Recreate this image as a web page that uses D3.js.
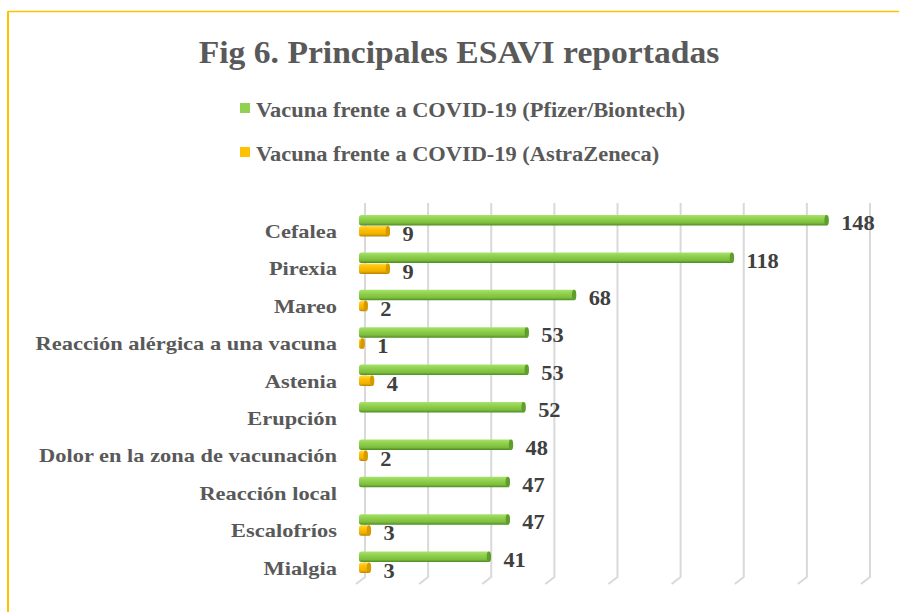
<!DOCTYPE html>
<html>
<head>
<meta charset="utf-8">
<script src="https://cdn.jsdelivr.net/npm/d3@7"></script>
<style>
  body { margin: 0; background: #fff; }
  svg { display: block; }
</style>
</head>
<body>
<script>
  // data
  var categories = ["Cefalea", "Pirexia", "Mareo", "Reacción alérgica a una vacuna", "Astenia",
                    "Erupción", "Dolor en la zona de vacunación", "Reacción local", "Escalofríos", "Mialgia"];
  var pfizer = [148, 118, 68, 53, 53, 52, 48, 47, 47, 41];
  var astra = [9, 9, 2, 1, 4, null, 2, null, 3, 3];
  var seriesNames = ["Vacuna frente a COVID-19 (Pfizer/Biontech)", "Vacuna frente a COVID-19 (AstraZeneca)"];
  var ticks = [0, 20, 40, 60, 80, 100, 120, 140, 160];

  var width = 899;
  var height = 612;
  var font = "'Liberation Serif', 'DejaVu Serif', serif";

  var svg = d3.select("body").append("svg")
              .attr("width", width)
              .attr("height", height)
              .style("font-family", font);

  // widen the narrow serif so it takes the room of the original book face
  function stretch(sel, k) {
    sel.each(function() {
      var w = this.getComputedTextLength();
      d3.select(this).attr("textLength", w * k).attr("lengthAdjust", "spacingAndGlyphs");
    });
  }

  var defs = svg.append("defs");
  function grad(id, stops) {
    var g = defs.append("linearGradient").attr("id", id)
      .attr("x1", 0).attr("y1", 0).attr("x2", 0).attr("y2", 1);
    stops.forEach(function(s) {
      g.append("stop").attr("offset", s[0]).attr("stop-color", s[1]);
    });
  }
  grad("gGreen", [[0, "#a6e36a"], [0.35, "#92d050"], [0.75, "#7cbf3c"], [1, "#4e8a22"]]);
  grad("gOrange", [[0, "#ffd84a"], [0.35, "#ffc000"], [0.75, "#f0b000"], [1, "#b88400"]]);

  // chart border (yellow, top and left only)
  svg.append("line").attr("x1", 8).attr("x2", width).attr("y1", 11.5).attr("y2", 11.5)
    .attr("stroke", "#ffc000").attr("stroke-width", 1.5);
  svg.append("line").attr("x1", 8).attr("x2", 8).attr("y1", 11).attr("y2", height)
    .attr("stroke", "#ffc000").attr("stroke-width", 2);

  // title
  svg.append("text")
    .attr("x", 459).attr("y", 63)
    .attr("text-anchor", "middle")
    .style("font-size", "32px").style("font-weight", "bold")
    .attr("fill", "#595959")
    .text("Fig 6. Principales ESAVI reportadas")
    .call(stretch, 1.05);

  // legend
  var legColors = ["#92d050", "#ffc000"];
  var leg = svg.selectAll(".leg").data(seriesNames).enter().append("g")
    .attr("class", "leg")
    .attr("transform", function(d, i) { return "translate(240," + (103 + i * 44) + ")"; });
  leg.append("rect").attr("width", 10).attr("height", 10)
    .attr("fill", function(d, i) { return legColors[i]; });
  leg.append("text").attr("x", 16).attr("y", 14)
    .style("font-size", "20px").style("font-weight", "bold")
    .attr("fill", "#595959")
    .text(function(d) { return d; })
    .call(stretch, 1.12);

  var x = d3.scaleLinear().domain([0, 160]).range([365, 870]);
  var y = d3.scaleBand().domain(categories).range([207.3, 581.3]);
  var depth = 6;
  var barH = 10.5;

  // gridlines with 3d foot
  var gridTop = 203, gridBot = 577;
  var grid = svg.append("g").attr("stroke", "#d9d9d9").attr("stroke-width", 2).attr("fill", "none");
  grid.selectAll("path").data(ticks).enter().append("path")
    .attr("d", function(t) {
      var gx = x(t);
      return "M" + gx + "," + gridTop + "L" + gx + "," + gridBot + "L" + (gx - 9) + "," + (gridBot + 7);
    });

  // category labels
  svg.append("g").selectAll("text").data(categories).enter().append("text")
    .attr("x", 337)
    .attr("y", function(d) { return y(d) + y.bandwidth() / 2 + 12; })
    .attr("text-anchor", "end")
    .style("font-size", "19px").style("font-weight", "bold")
    .attr("fill", "#595959")
    .text(function(d) { return d; })
    .call(stretch, 1.18);

  function drawSeries(values, offset, fill, cap) {
    var rows = categories.map(function(c, i) { return { c: c, v: values[i] }; })
      .filter(function(d) { return d.v != null; });
    var g = svg.append("g");
    var bars = g.selectAll("g").data(rows).enter().append("g");
    bars.append("rect")
      .attr("x", x(0) - depth)
      .attr("y", function(d) { return y(d.c) + y.bandwidth() / 2 + offset; })
      .attr("width", function(d) { return x(d.v) - x(0) + 2; })
      .attr("height", barH)
      .attr("rx", 2.5)
      .attr("fill", fill);
    // end cap
    bars.append("ellipse")
      .attr("cx", function(d) { return x(d.v) - depth + 0.5; })
      .attr("cy", function(d) { return y(d.c) + y.bandwidth() / 2 + offset + barH / 2; })
      .attr("rx", 2.2).attr("ry", barH / 2)
      .attr("fill", cap);
    bars.append("text")
      .attr("x", function(d) { return x(d.v) - depth + 15; })
      .attr("y", function(d) { return y(d.c) + y.bandwidth() / 2 + offset + barH / 2 + 10; })
      .style("font-size", "20px").style("font-weight", "bold")
      .attr("fill", "#404040")
      .text(function(d) { return d.v; })
      .call(stretch, 1.12);
  }

  drawSeries(pfizer, -11, "url(#gGreen)", "#5f9e2c");
  drawSeries(astra, 0, "url(#gOrange)", "#d49a00");
</script>
</body>
</html>
